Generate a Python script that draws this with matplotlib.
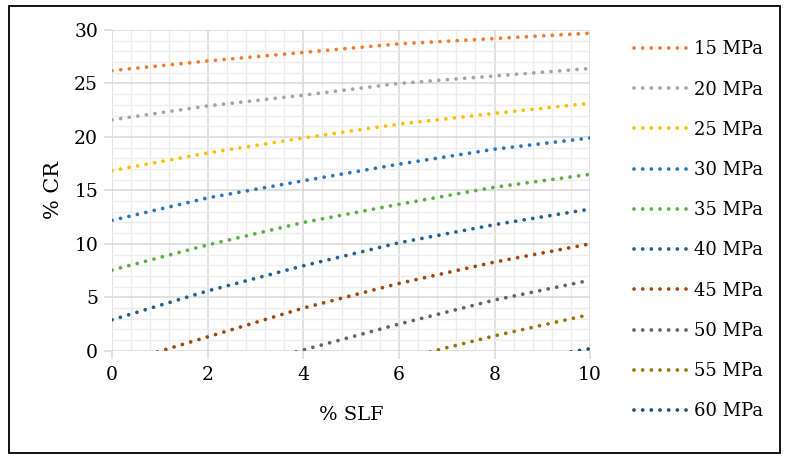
import matplotlib
matplotlib.use("Agg")
import matplotlib.pyplot as plt
from matplotlib.patches import Rectangle
from matplotlib.ticker import MultipleLocator

labels = ["15 MPa", "20 MPa", "25 MPa", "30 MPa", "35 MPa",
          "40 MPa", "45 MPa", "50 MPa", "55 MPa", "60 MPa"]
colors = ["#ED7D31", "#A5A5A5", "#FFC000", "#2E75B6", "#5BAE47",
          "#255E91", "#9E480E", "#636363", "#997300", "#1F4E79"]

x_full = [0, 2, 4, 6, 8, 10]
cr_15 = [26.2, 27.1, 27.9, 28.7, 29.2, 29.7]
cr_20 = [21.6, 22.9, 23.9, 25.0, 25.7, 26.4]
cr_25 = [16.85, 18.5, 19.9, 21.2, 22.2, 23.15]
cr_30 = [12.2, 14.3, 15.9, 17.45, 18.85, 19.9]
cr_35 = [7.55, 9.9, 12.0, 13.7, 15.3, 16.5]
cr_40 = [2.9, 5.6, 7.95, 10.1, 11.8, 13.25]
x_45 = [0.95, 2, 4, 6, 8, 10]
cr_45 = [-0.1, 1.3, 4.0, 6.3, 8.3, 10.0]
x_50 = [3.85, 6, 8, 10]
cr_50 = [-0.1, 2.5, 4.75, 6.6]
x_55 = [6.65, 8, 10]
cr_55 = [-0.1, 1.4, 3.4]
x_60 = [9.6, 10]
cr_60 = [-0.1, 0.2]

xs = [x_full] * 6 + [x_45, x_50, x_55, x_60]
ys = [cr_15, cr_20, cr_25, cr_30, cr_35, cr_40, cr_45, cr_50, cr_55, cr_60]

plt.rcParams['font.family'] = ['DejaVu Serif']
fig = plt.figure(figsize=(7.89, 4.61), dpi=100)
ax = fig.add_axes([0.142, 0.239, 0.606, 0.696])

for x, y, c, lab in zip(xs, ys, colors, labels):
    ax.plot(x, y, color=c, lw=2.7, linestyle=(0, (0.01, 2.3)),
            dash_capstyle='round', label=lab)

ax.set_xlim(0, 10)
ax.set_ylim(0, 30)
ax.xaxis.set_major_locator(MultipleLocator(2))
ax.xaxis.set_minor_locator(MultipleLocator(0.4))
ax.yaxis.set_major_locator(MultipleLocator(5))
ax.yaxis.set_minor_locator(MultipleLocator(1))
ax.grid(which='major', color='#D9D9D9', lw=1.1)
ax.grid(which='minor', color='#EDEDED', lw=1.0)
ax.set_axisbelow(True)
for s in ax.spines.values():
    s.set_visible(False)
ax.tick_params(which='major', length=6, color='#D9D9D9', width=1.1,
               labelsize=13.5, pad=4, labelcolor='#000000')
ax.tick_params(which='minor', length=0)
ax.tick_params(axis='x', pad=5)
ax.set_xlabel("% SLF", fontsize=14, labelpad=16)
ax.set_ylabel("% CR", fontsize=15, labelpad=8)

fig.legend(loc='upper left', bbox_to_anchor=(0.792, 0.932), frameon=False,
           fontsize=13, handlelength=2.9, handletextpad=0.45,
           labelspacing=1.23, borderpad=0)

fig.patches.append(Rectangle((9 / 789, 1 - 453 / 461), 771 / 789, 447 / 461,
                             transform=fig.transFigure, fill=False,
                             edgecolor='black', lw=1.3))

fig.savefig("out.png", dpi=100)
